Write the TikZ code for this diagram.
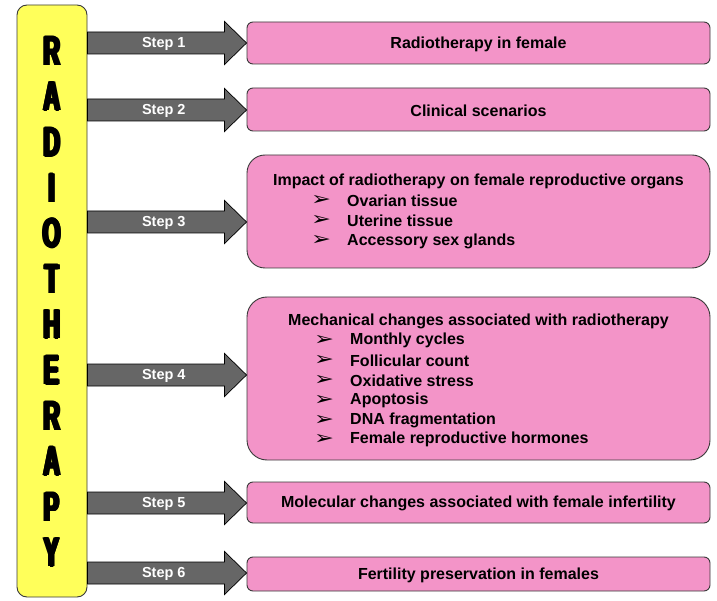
\documentclass[tikz,border=0pt]{standalone}
\usepackage{fontspec}
\setmainfont{Liberation Sans}
\newfontfamily\symfont{DejaVu Sans}
\usetikzlibrary{calc}
\definecolor{baryellow}{HTML}{FFFF5A}
\definecolor{boxpink}{HTML}{F394C8}
\definecolor{arrgray}{HTML}{666666}
\definecolor{edgegray}{HTML}{3A3A3A}
\tikzset{
  pinkbox/.style={draw=edgegray, line width=0.9pt, fill=boxpink, minimum width=463pt, inner sep=0pt},
  arr/.style={draw=black, line width=0.7pt, fill=arrgray},
  steplabel/.style={text=white, font=\fontsize{14.5}{14.5}\selectfont\bfseries, inner sep=0pt},
  boxtext/.style={font=\fontsize{16}{16}\selectfont\bfseries, inner sep=0pt},
  item/.style={font=\fontsize{16}{16}\selectfont\bfseries, inner sep=0pt, anchor=west},
  bul/.style={font=\fontsize{19}{19}\selectfont\symfont, inner sep=0pt, anchor=base, text height=9pt, text depth=0pt},
  letter/.style={inner sep=0pt}
}
\newcommand\heavyletter[1]{\rlap{\hspace{-2.4pt}#1}\rlap{\hspace{-1.6pt}#1}\rlap{\hspace{-0.8pt}#1}\rlap{\hspace{0.8pt}#1}\rlap{\hspace{1.6pt}#1}\rlap{\hspace{2.4pt}#1}\rlap{\raisebox{0.6pt}{#1}}\rlap{\raisebox{-0.6pt}{#1}}#1}
\newcommand\bigletter[1]{\scalebox{0.62}[1.12]{\fontsize{37}{37}\selectfont\bfseries\heavyletter{#1}}}
\newcommand\arrowbullet{\scalebox{1.25}[1]{➢}}
\begin{document}
\begin{tikzpicture}[x=1pt,y=-1pt]
\useasboundingbox (0,0) rectangle (717,601);
% left bar
\node[draw=edgegray, line width=0.9pt, fill=baryellow, rounded corners=10pt, minimum width=70pt, minimum height=592pt, inner sep=0pt] (bar) at (52,301) {};
\foreach \L [count=\i] in {R,A,D,I,O,T,H,E,R,A,P,Y}{
  \node[letter] (let\i) at (52,{51+(\i-1)*45.6}) {\bigletter{\L}};
}
% boxes
\node[pinkbox, rounded corners=6pt, minimum height=42pt] (b1) at (478.5,43) {};
\node[pinkbox, rounded corners=6pt, minimum height=43pt] (b2) at (478.5,109.5) {};
\node[pinkbox, rounded corners=18pt, minimum height=113pt] (b3) at (478.5,211.5) {};
\node[pinkbox, rounded corners=20pt, minimum height=163pt] (b4) at (478.5,378.5) {};
\node[pinkbox, rounded corners=6pt, minimum height=41pt] (b5) at (478.5,502.5) {};
\node[pinkbox, rounded corners=6pt, minimum height=34pt] (b6) at (478.5,574) {};
% texts
\node[boxtext] (t1) at ($(b1.center)+(0,1)$) {Radiotherapy in female};
\node[boxtext] (t2) at ($(b2.center)+(0,1)$) {Clinical scenarios};
\node[boxtext] (t3) at (478.5,181) {Impact of radiotherapy on female reproductive organs};
\node[bul] (u31) at (321,206) {\arrowbullet};
\node[item] (i31) at (347,201) {Ovarian tissue};
\node[bul] (u32) at (321,226) {\arrowbullet};
\node[item] (i32) at (347,221) {Uterine tissue};
\node[bul] (u33) at (321,246) {\arrowbullet};
\node[item] (i33) at (347,241) {Accessory sex glands};
\node[boxtext] (t4) at (478.5,321) {Mechanical changes associated with radiotherapy};
\foreach \txt [count=\i] in {Monthly cycles,Follicular count,Oxidative stress,Apoptosis,DNA fragmentation,Female reproductive hormones}{
  \node[bul] (u4\i) at (324,{326+\i*19.8}) {\arrowbullet};
  \node[item] (i4\i) at (350,{321+\i*19.8}) {\txt};
}
\node[boxtext] (t5) at ($(b5.center)+(0,1)$) {Molecular changes associated with female infertility};
\node[boxtext] (t6) at ($(b6.center)+(0,1)$) {Fertility preservation in females};
% arrows
\foreach \n/\y/\bx in {1/43/b1,2/110/b2,3/222/b3,4/375/b4,5/503/b5,6/573/b6}{
  \coordinate (s\n) at (bar.east |- 0,\y);
  \coordinate (e\n) at (\bx.west |- 0,\y);
  \draw[arr] ($(s\n)+(0,-11)$) -- ($(e\n)+(-22,-11)$) -- ($(e\n)+(-22,-21.5)$) -- (e\n)
     -- ($(e\n)+(-22,21.5)$) -- ($(e\n)+(-22,11)$) -- ($(s\n)+(0,11)$) -- cycle;
  \node[steplabel] (l\n) at ($(s\n)!0.48!(e\n)+(0,1)$) {Step \n};
}
\end{tikzpicture}
\end{document}
